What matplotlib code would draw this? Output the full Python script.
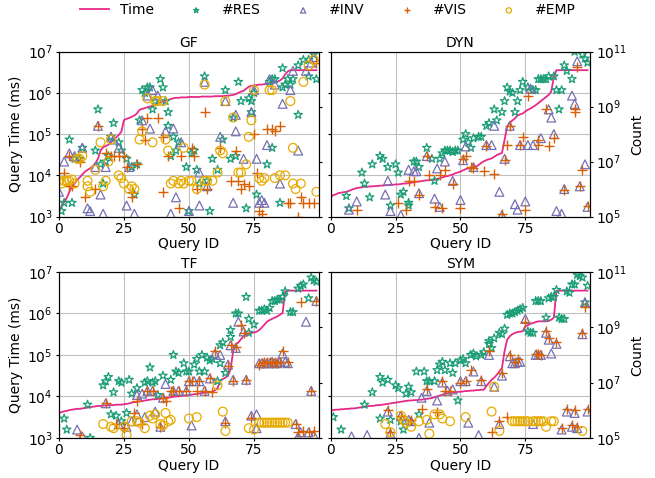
import numpy as np
import matplotlib
matplotlib.use('Agg')
import matplotlib.pyplot as plt
from matplotlib.ticker import NullLocator

# query ids and query time (log10 ms) per panel
queries = np.arange(100)

gf_time = [3.12, 3.25, 3.35, 3.45, 3.6, 3.73, 3.8, 3.89, 3.95, 4.02, 4.09, 4.13, 4.17, 4.22, 4.29, 4.4, 4.6,
           4.68, 4.71, 4.74, 4.8, 4.86, 4.92, 4.98, 5.06, 5.34, 5.37, 5.39, 5.42, 5.45, 5.5, 5.59, 5.61, 5.63,
           5.65, 5.67, 5.68, 5.69, 5.75, 5.77, 5.79, 5.81, 5.83, 5.85, 5.87, 5.88, 5.88, 5.89, 5.89, 5.89, 5.9,
           5.9, 5.9, 5.9, 5.9, 5.91, 5.91, 5.91, 5.91, 5.91, 5.92, 5.92, 5.92, 5.92, 5.93, 5.93, 5.94, 5.95,
           5.97, 6.0, 6.03, 6.05, 6.1, 6.15, 6.17, 6.18, 6.19, 6.2, 6.2, 6.21, 6.22, 6.23, 6.24, 6.25, 6.27,
           6.3, 6.35, 6.45, 6.52, 6.55, 6.55, 6.55, 6.55, 6.55, 6.55, 6.55, 6.55, 6.55, 6.55, 6.55]
dyn_time = [3.48, 3.52, 3.54, 3.57, 3.58, 3.59, 3.6, 3.62, 3.65, 3.67, 3.69, 3.7, 3.71, 3.72, 3.72, 3.73, 3.73,
            3.74, 3.74, 3.75, 3.75, 3.76, 3.76, 3.77, 3.77, 3.78, 3.78, 3.79, 3.8, 3.8, 3.81, 3.82, 3.83, 3.84,
            3.85, 3.86, 3.87, 3.88, 3.88, 3.89, 3.89, 3.91, 3.93, 3.95, 3.97, 3.98, 4.0, 4.02, 4.05, 4.07, 4.09,
            4.12, 4.15, 4.17, 4.19, 4.2, 4.21, 4.25, 4.3, 4.34, 4.37, 4.39, 4.41, 4.45, 4.49, 4.52, 4.54, 4.86,
            5.18, 5.28, 5.33, 5.38, 5.45, 5.48, 5.5, 5.55, 5.59, 5.62, 5.66, 5.7, 5.75, 5.8, 5.85, 5.9, 5.95,
            6.03, 6.39, 6.55, 6.55, 6.55, 6.55, 6.55, 6.55, 6.55, 6.55, 6.55, 6.55, 6.55, 6.55, 6.55]
tf_time = [3.6, 3.62, 3.64, 3.65, 3.67, 3.68, 3.69, 3.7, 3.7, 3.71, 3.72, 3.73, 3.74, 3.75, 3.76, 3.77, 3.77,
           3.78, 3.78, 3.79, 3.79, 3.79, 3.8, 3.8, 3.8, 3.81, 3.82, 3.83, 3.85, 3.86, 3.87, 3.88, 3.89, 3.9,
           3.91, 3.92, 3.93, 3.93, 3.94, 3.95, 3.95, 3.96, 3.97, 3.98, 3.99, 4.0, 4.0, 4.01, 4.02, 4.02, 4.03,
           4.04, 4.05, 4.06, 4.07, 4.08, 4.09, 4.1, 4.1, 4.11, 4.15, 4.2, 4.37, 4.42, 4.45, 4.5, 4.65, 5.09,
           5.25, 5.3, 5.38, 5.45, 5.5, 5.52, 5.53, 5.54, 5.56, 5.6, 5.66, 5.73, 5.8, 5.84, 5.87, 5.9, 5.93,
           5.97, 6.01, 6.53, 6.55, 6.55, 6.55, 6.55, 6.55, 6.55, 6.55, 6.55, 6.55, 6.55, 6.55, 6.55]
sym_time = [3.67, 3.67, 3.68, 3.68, 3.69, 3.69, 3.7, 3.7, 3.71, 3.71, 3.72, 3.73, 3.74, 3.75, 3.76, 3.77, 3.77,
            3.78, 3.79, 3.79, 3.8, 3.81, 3.82, 3.83, 3.84, 3.85, 3.86, 3.87, 3.88, 3.89, 3.9, 3.9, 3.91, 3.91,
            3.92, 3.92, 3.93, 3.94, 3.95, 3.96, 3.98, 4.0, 4.02, 4.04, 4.06, 4.08, 4.09, 4.1, 4.1, 4.11, 4.11,
            4.12, 4.13, 4.13, 4.14, 4.14, 4.15, 4.15, 4.16, 4.16, 4.25, 4.33, 4.4, 4.45, 4.52, 4.6, 4.69, 5.09,
            5.37, 5.45, 5.5, 5.53, 5.55, 5.56, 5.57, 5.69, 5.72, 5.75, 5.77, 5.79, 5.81, 5.81, 5.81, 5.81, 5.82,
            5.85, 5.9, 6.55, 6.55, 6.55, 6.55, 6.55, 6.55, 6.55, 6.55, 6.55, 6.55, 6.55, 6.55, 6.55]

# counts: (query id, log10 count)
gf_res = [(1, 5.2), (2, 5.5), (4, 7.8), (5, 5.5), (6, 7.1), (8, 7.1), (9, 7.5), (14, 7.4), (15, 8.9), (16, 6.9),
          (17, 6.2), (18, 7.0), (19, 7.2), (20, 7.9), (21, 8.4), (23, 7.7), (24, 7.4), (26, 7.1), (28, 6.8),
          (29, 5.8), (30, 6.9), (31, 8.5), (32, 9.6), (33, 9.5), (34, 9.7), (35, 9.7), (36, 8.9), (37, 9.2),
          (39, 10.0), (40, 9.7), (41, 9.2), (42, 8.8), (42, 8.3), (43, 7.2), (44, 7.9), (45, 7.4), (46, 7.7),
          (49, 6.8), (50, 5.2), (51, 7.3), (52, 7.4), (53, 6.7), (54, 6.2), (56, 10.1), (57, 6.3), (58, 5.2),
          (59, 7.1), (61, 6.7), (63, 7.8), (64, 9.6), (66, 7.1), (67, 8.6), (68, 7.2), (69, 9.9), (70, 9.2),
          (72, 5.3), (73, 9.3), (74, 8.8), (74, 9.2), (75, 9.5), (76, 5.8), (80, 6.9), (81, 9.9), (82, 10.0),
          (82, 7.5), (83, 10.0), (85, 5.5), (86, 10.4), (86, 9.7), (87, 9.8), (88, 10.0), (89, 9.8), (90, 10.0),
          (92, 8.7), (92, 10.5), (94, 10.7), (96, 10.7), (96, 10.1), (98, 10.9), (99, 10.0)]
gf_inv = [(0, 5.9), (2, 7.0), (4, 7.3), (6, 7.2), (9, 7.5), (11, 5.3), (12, 5.2), (14, 6.8), (15, 8.3), (16, 5.8),
          (17, 5.1), (18, 6.8), (20, 7.9), (21, 7.8), (23, 7.5), (26, 5.4), (27, 6.8), (29, 5.1), (32, 8.5),
          (34, 9.4), (35, 8.2), (36, 9.6), (38, 9.4), (41, 8.1), (43, 5.1), (44, 8.2), (45, 5.7), (47, 7.7),
          (50, 5.2), (54, 6.6), (54, 5.4), (56, 9.9), (57, 6.1), (62, 7.9), (64, 9.2), (67, 5.5), (68, 8.7),
          (68, 8.1), (71, 7.1), (74, 8.8), (75, 9.6), (76, 7.1), (77, 5.5), (78, 5.6), (79, 5.5), (80, 7.6),
          (81, 10.0), (83, 9.8), (85, 6.2), (86, 9.1), (89, 9.6), (90, 10.3), (92, 7.4), (95, 10.3), (97, 10.6),
          (98, 10.8)]
gf_vis = [(2, 6.6), (4, 7.2), (4, 6.1), (5, 6.1), (8, 7.0), (10, 5.7), (14, 6.0), (15, 8.3), (18, 7.3), (20, 7.2),
          (21, 7.2), (23, 7.2), (25, 7.2), (26, 6.8), (28, 5.7), (28, 5.9), (30, 6.9), (32, 8.2), (33, 7.8),
          (34, 8.6), (38, 8.6), (40, 7.9), (40, 5.9), (42, 7.2), (46, 5.3), (47, 7.2), (51, 7.5), (52, 7.2),
          (53, 6.0), (56, 8.8), (57, 6.0), (62, 7.5), (66, 6.3), (68, 7.4), (69, 6.3), (70, 6.0), (71, 6.2),
          (73, 6.1), (75, 8.0), (76, 6.6), (77, 5.2), (78, 5.1), (80, 8.2), (82, 8.2), (83, 8.1), (85, 8.3),
          (88, 5.5), (89, 5.5), (92, 5.0), (93, 5.7), (94, 5.5), (96, 5.5), (98, 5.5), (99, 10.6)]
gf_emp = [(0, 6.3), (1, 6.2), (2, 6.3), (3, 6.3), (4, 6.3), (5, 6.35), (6, 6.2), (7, 7.1), (8, 7.1), (9, 7.2),
          (11, 6.3), (11, 6.1), (12, 5.9), (14, 6.7), (16, 7.7), (17, 6.1), (18, 6.3), (19, 7.0), (20, 7.8),
          (23, 6.5), (24, 6.4), (25, 6.2), (27, 6.0), (28, 6.1), (29, 6.0), (31, 7.8), (32, 8.1), (34, 9.3),
          (36, 7.7), (37, 9.2), (38, 9.2), (40, 9.2), (41, 7.8), (42, 7.4), (43, 6.2), (44, 6.3), (46, 6.2),
          (47, 6.3), (48, 7.5), (48, 6.2), (50, 6.3), (51, 6.3), (53, 6.0), (56, 9.8), (56, 6.3), (57, 6.3),
          (59, 6.3), (61, 6.6), (62, 7.4), (63, 7.3), (64, 9.2), (67, 8.6), (69, 6.6), (70, 6.6), (72, 6.9),
          (73, 7.9), (74, 8.5), (75, 9.6), (77, 6.4), (78, 6.3), (79, 6.4), (81, 9.6), (82, 9.6), (83, 6.4),
          (85, 6.5), (87, 6.5), (89, 9.2), (90, 7.5), (90, 6.2), (91, 6.0), (93, 6.2), (94, 9.9), (96, 10.5),
          (98, 10.7), (99, 5.9)]

dyn_res = [(6, 5.75), (7, 5.3), (12, 6.6), (13, 6.2), (15, 5.7), (16, 6.9), (19, 7.2), (20, 7.1), (22, 6.8),
           (23, 5.4), (25, 6.9), (26, 6.6), (27, 5.8), (28, 5.9), (30, 5.5), (30, 5.4), (32, 7.0), (33, 7.0),
           (34, 6.8), (37, 7.5), (39, 7.1), (40, 6.3), (42, 7.1), (43, 7.3), (44, 7.4), (45, 7.4), (46, 7.4),
           (47, 7.35), (48, 7.4), (49, 7.4), (51, 7.8), (52, 8.0), (53, 7.7), (54, 7.5), (55, 7.85), (57, 7.9),
           (58, 7.9), (60, 8.3), (61, 8.4), (63, 8.9), (64, 8.5), (66, 8.8), (67, 9.2), (68, 9.7), (69, 9.55),
           (70, 9.5), (71, 8.8), (72, 9.2), (73, 9.6), (74, 9.9), (76, 9.7), (78, 9.6), (79, 9.6), (80, 10.0),
           (81, 10.0), (82, 10.0), (83, 10.0), (84, 10.1), (86, 10.1), (87, 9.6), (88, 8.9), (89, 9.6),
           (90, 10.5), (91, 10.3), (93, 10.0), (94, 11.0), (97, 10.9), (98, 10.75), (99, 10.6)]
dyn_inv = [(7, 5.25), (10, 5.55), (21, 5.8), (22, 6.3), (23, 5.2), (27, 5.05), (30, 6.7), (32, 6.65), (33, 6.65),
           (34, 5.85), (37, 7.2), (40, 5.65), (41, 6.75), (42, 5.35), (44, 7.0), (47, 6.3), (50, 5.6), (51, 7.05),
           (52, 7.55), (55, 6.8), (60, 7.6), (62, 7.6), (63, 8.3), (65, 5.9), (66, 5.05), (67, 7.1), (69, 8.3),
           (71, 5.45), (72, 5.25), (73, 7.6), (75, 5.55), (76, 7.6), (77, 9.65), (78, 7.6), (81, 7.85), (84, 8.9),
           (85, 8.6), (86, 8.0), (87, 5.2), (89, 5.1), (90, 6.0), (93, 9.4), (94, 9.1), (95, 10.65), (96, 6.1),
           (98, 6.9), (99, 5.35)]
dyn_vis = [(10, 5.25), (26, 5.5), (29, 5.25), (30, 6.3), (32, 6.3), (34, 5.8), (37, 7.2), (38, 6.5), (40, 5.35),
           (42, 6.5), (43, 5.3), (44, 6.7), (47, 6.2), (50, 5.3), (51, 7.1), (52, 7.2), (54, 6.8), (55, 6.75),
           (59, 6.65), (60, 7.55), (63, 6.55), (66, 5.1), (67, 7.05), (68, 7.6), (69, 8.3), (73, 7.6), (74, 7.9),
           (75, 5.25), (76, 9.4), (80, 7.6), (80, 7.8), (83, 8.9), (84, 7.55), (86, 7.85), (90, 5.95), (94, 8.9),
           (94, 8.8), (95, 10.45), (96, 6.1), (97, 6.7), (99, 5.4)]
dyn_emp = []

tf_res = [(2, 5.7), (3, 5.3), (11, 6.2), (12, 5.0), (17, 6.9), (18, 7.05), (19, 7.2), (20, 5.85), (21, 6.65),
          (22, 5.8), (23, 7.05), (24, 7.0), (24, 5.6), (26, 5.9), (27, 7.1), (28, 6.6), (30, 6.8), (33, 7.0),
          (34, 7.05), (35, 7.55), (36, 7.0), (37, 7.05), (38, 6.55), (40, 7.25), (43, 7.1), (44, 8.0), (45, 7.4),
          (46, 7.35), (48, 7.7), (49, 7.4), (50, 7.4), (52, 7.65), (53, 7.85), (54, 7.4), (55, 8.0), (56, 7.4),
          (57, 7.9), (58, 7.8), (59, 7.85), (61, 7.05), (62, 8.35), (62, 7.7), (63, 8.45), (64, 7.35), (66, 8.9),
          (66, 8.65), (68, 9.5), (69, 9.5), (72, 10.1), (73, 9.3), (73, 8.8), (75, 9.1), (77, 9.6), (78, 9.6),
          (79, 9.65), (80, 9.6), (81, 9.7), (82, 9.95), (83, 9.95), (84, 10.0), (85, 10.0), (86, 10.1),
          (87, 10.3), (89, 9.55), (90, 9.55), (92, 10.4), (93, 10.5), (94, 10.55), (96, 10.05), (97, 10.8),
          (98, 10.7), (99, 10.65)]
tf_inv = [(7, 5.3), (9, 5.05), (18, 6.25), (23, 5.5), (26, 5.4), (28, 5.6), (30, 5.85), (30, 6.55), (32, 6.6),
          (33, 5.75), (34, 6.7), (36, 6.7), (37, 5.95), (39, 5.4), (40, 6.45), (41, 6.95), (44, 6.7), (46, 6.7),
          (49, 6.7), (50, 7.05), (51, 5.45), (52, 7.05), (54, 7.05), (56, 6.7), (58, 7.15), (60, 8.05), (62, 8.0),
          (64, 5.6), (65, 7.65), (66, 8.35), (67, 7.1), (68, 8.25), (69, 9.2), (71, 8.85), (72, 7.1), (74, 5.8),
          (76, 5.85), (76, 5.35), (77, 7.7), (78, 7.7), (79, 7.7), (80, 7.7), (81, 7.7), (82, 7.75), (83, 7.7),
          (84, 7.7), (85, 7.75), (86, 8.05), (87, 7.75), (88, 7.7), (91, 5.5), (92, 5.05), (93, 5.2), (95, 9.2),
          (96, 5.2), (97, 6.7), (98, 5.1), (99, 9.95)]
tf_vis = [(8, 5.1), (18, 6.25), (22, 5.5), (25, 5.35), (29, 5.9), (30, 6.35), (32, 5.5), (34, 6.7), (36, 6.7),
          (39, 5.4), (40, 6.45), (41, 6.35), (43, 6.7), (44, 6.7), (46, 6.7), (49, 6.7), (50, 7.05), (51, 7.05),
          (53, 6.7), (54, 7.05), (56, 6.7), (58, 7.15), (59, 6.65), (60, 8.15), (64, 5.55), (65, 7.6), (66, 8.35),
          (67, 7.05), (68, 8.3), (70, 9.1), (71, 8.8), (72, 7.1), (74, 5.7), (77, 7.65), (78, 7.7), (79, 7.75),
          (80, 7.75), (81, 7.75), (82, 7.7), (83, 7.75), (84, 7.7), (85, 7.75), (86, 8.15), (88, 7.75), (91, 5.5),
          (92, 5.2), (93, 9.9), (94, 5.25), (96, 5.2), (97, 6.7), (98, 5.25), (99, 9.95)]
tf_emp = [(17, 5.5), (20, 5.4), (21, 5.35), (25, 5.4), (26, 5.1), (28, 5.6), (30, 5.6), (31, 5.55), (33, 5.35),
          (35, 5.8), (36, 5.7), (37, 5.85), (39, 5.5), (40, 5.45), (41, 5.9), (42, 5.6), (43, 5.65), (50, 5.7),
          (53, 5.75), (61, 6.9), (63, 5.95), (64, 5.25), (73, 5.35), (75, 5.3), (77, 5.55), (78, 5.55), (79, 5.55),
          (80, 5.55), (81, 5.55), (82, 5.55), (83, 5.55), (84, 5.55), (85, 5.55), (86, 5.55), (87, 5.55),
          (88, 5.55)]

sym_res = [(1, 5.75), (4, 5.3), (13, 6.2), (16, 6.65), (19, 7.2), (19, 5.7), (20, 7.0), (22, 7.1), (23, 5.65),
           (25, 6.9), (26, 6.8), (27, 5.6), (28, 5.3), (29, 6.6), (30, 6.85), (31, 6.65), (33, 7.4), (34, 5.85),
           (36, 7.4), (37, 7.05), (38, 7.05), (40, 7.05), (41, 7.45), (42, 7.65), (43, 7.75), (44, 7.45), (46, 7.7),
           (47, 7.35), (48, 7.7), (49, 6.35), (50, 7.8), (51, 7.85), (52, 7.7), (54, 8.0), (55, 8.05), (56, 7.95),
           (58, 8.0), (59, 8.1), (61, 8.4), (61, 8.5), (62, 8.25), (63, 8.6), (65, 8.8), (66, 8.75), (67, 8.95),
           (68, 9.45), (69, 9.5), (70, 9.5), (71, 9.55), (72, 9.6), (73, 9.65), (74, 9.7), (76, 8.85), (77, 8.8),
           (78, 8.8), (79, 9.95), (80, 9.95), (81, 9.95), (83, 9.35), (84, 10.05), (85, 10.1), (86, 10.1),
           (87, 10.35), (88, 9.35), (89, 9.3), (90, 9.3), (91, 10.3), (92, 10.25), (93, 10.55), (94, 10.55),
           (95, 10.9), (96, 10.85), (97, 10.8), (98, 9.9), (99, 10.5)]
sym_inv = [(8, 5.05), (14, 5.1), (22, 5.95), (23, 5.15), (27, 5.8), (30, 5.65), (31, 5.6), (34, 5.0), (35, 6.45),
           (37, 6.7), (38, 5.55), (41, 6.35), (43, 7.0), (45, 6.7), (47, 6.75), (50, 7.05), (52, 7.05), (53, 5.55),
           (55, 7.4), (57, 5.1), (58, 7.05), (61, 8.0), (63, 6.85), (65, 5.5), (66, 7.25), (69, 7.95), (70, 7.7),
           (71, 7.7), (72, 7.75), (73, 7.75), (75, 9.3), (78, 5.5), (79, 8.0), (80, 8.0), (81, 8.0), (83, 8.8),
           (84, 8.55), (85, 8.05), (87, 8.4), (89, 5.3), (91, 5.95), (93, 5.4), (94, 5.9), (95, 5.35), (97, 8.75),
           (98, 9.9), (99, 5.95)]
sym_vis = [(22, 6.0), (23, 5.2), (27, 5.8), (31, 5.65), (35, 6.05), (37, 6.75), (41, 5.95), (43, 7.05), (44, 6.7),
           (46, 6.7), (50, 7.0), (52, 7.05), (54, 7.45), (58, 7.1), (61, 8.15), (62, 5.2), (65, 5.6), (66, 7.35),
           (68, 5.75), (69, 8.0), (71, 7.75), (72, 7.85), (75, 9.2), (79, 8.05), (80, 8.05), (81, 8.0), (83, 8.85),
           (84, 8.6), (87, 8.45), (89, 5.35), (91, 6.05), (93, 5.45), (94, 6.0), (95, 5.4), (97, 8.8), (98, 9.75),
           (99, 6.05)]
sym_emp = [(21, 5.5), (23, 5.2), (27, 5.8), (28, 5.65), (29, 5.55), (31, 5.4), (34, 5.6), (37, 5.65), (38, 5.15),
           (40, 5.85), (42, 5.85), (43, 5.7), (46, 5.6), (52, 5.75), (62, 5.95), (63, 6.85), (65, 5.25), (70, 5.6),
           (71, 5.6), (72, 5.6), (73, 5.6), (74, 5.6), (75, 5.6), (76, 5.6), (78, 5.6), (79, 5.6), (80, 5.6),
           (81, 5.6), (82, 5.6), (83, 5.4), (85, 5.6), (86, 5.6), (97, 5.25)]

C_TIME, C_RES, C_INV, C_VIS, C_EMP = '#e7298a', '#1b9e77', '#7570b3', '#d95f02', '#e6ab02'

plt.rcParams['font.size'] = 10
plt.rcParams['xtick.major.size'] = 2
plt.rcParams['ytick.major.size'] = 2.5
plt.rcParams['xtick.major.pad'] = 2
plt.rcParams['ytick.major.pad'] = 2

fig = plt.figure(figsize=(6.55, 4.78), dpi=100)

panels = [
    ('GF', [0.090, 0.547, 0.397, 0.345], gf_time, gf_res, gf_inv, gf_vis, gf_emp, True),
    ('DYN', [0.505, 0.547, 0.396, 0.345], dyn_time, dyn_res, dyn_inv, dyn_vis, dyn_emp, False),
    ('TF', [0.090, 0.084, 0.397, 0.347], tf_time, tf_res, tf_inv, tf_vis, tf_emp, True),
    ('SYM', [0.505, 0.084, 0.396, 0.347], sym_time, sym_res, sym_inv, sym_vis, sym_emp, False),
]


def scatter(ax, pts, marker, color, filled=False):
    if not pts:
        return ax.scatter([], [], marker=marker, s=40)
    x = [p[0] for p in pts]
    y = [10 ** p[1] for p in pts]
    if filled:
        return ax.scatter(x, y, marker=marker, s=45, color=color, linewidths=1.0)
    return ax.scatter(x, y, marker=marker, s=40, facecolors='none', edgecolors=color, linewidths=0.9)


handles = None
for title, rect, time, res, inv, vis, emp, is_left in panels:
    ax = fig.add_axes(rect)
    ax.set_yscale('log')
    ax.set_ylim(1e3, 1e7)
    ax.set_xlim(0, 100)
    ax.set_xticks([0, 25, 50, 75])
    ax.yaxis.set_minor_locator(NullLocator())
    ax.grid(True, color='#c0c0c0', linewidth=0.8)
    ax.set_axisbelow(True)
    line, = ax.plot(queries, [10 ** t for t in time], color=C_TIME, lw=1.3)
    ax.set_title(title, fontsize=10, pad=3)
    ax.set_xlabel('Query ID', labelpad=1)

    axr = ax.twinx()
    axr.set_yscale('log')
    axr.set_ylim(1e5, 1e11)
    axr.set_yticks([1e5, 1e7, 1e9, 1e11])
    axr.yaxis.set_minor_locator(NullLocator())
    h_res = scatter(axr, res, '*', C_RES)
    h_inv = scatter(axr, inv, '^', C_INV)
    h_vis = scatter(axr, vis, '+', C_VIS, filled=True)
    h_emp = scatter(axr, emp, 'o', C_EMP)

    if is_left:
        ax.set_ylabel('Query Time (ms)', labelpad=3)
        axr.tick_params(labelright=False)
    else:
        ax.tick_params(labelleft=False)
        axr.set_ylabel('Count', labelpad=2)
    if handles is None:
        handles = [line, h_res, h_inv, h_vis, h_emp]

fig.legend(handles, ['Time', '#RES', '#INV', '#VIS', '#EMP'], loc='center',
           bbox_to_anchor=(0.5, 0.979), ncol=5, frameon=False, scatterpoints=1,
           markerscale=0.6, handlelength=2.1, fontsize=10)

fig.savefig('out.png', dpi=100)
